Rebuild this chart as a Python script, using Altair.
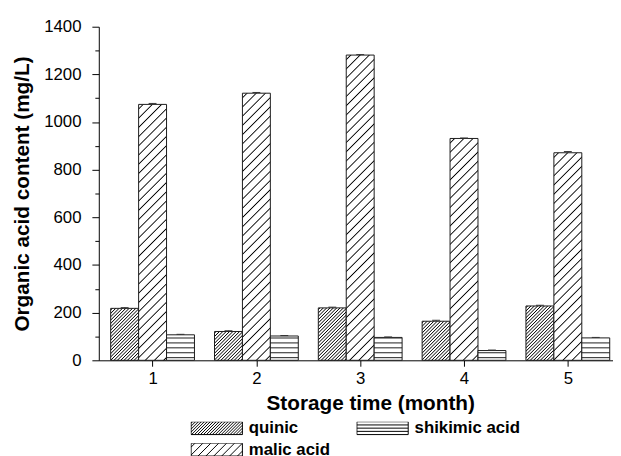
import altair as alt
import numpy as np
import pandas as pd

# ---- data ----
months = [1, 2, 3, 4, 5]
acids = ["quinic", "malic acid", "shikimic acid"]
quinic = [218, 121, 220, 164, 228]
malic = [1074, 1121, 1281, 931, 871]
shikimic = [107, 102, 96, 41, 94]
quinic_err = [3, 3, 3, 4, 3]
malic_err = [4, 3, 2, 2, 5]
shikimic_err = [2, 2, 2, 2, 2]
legend_order = ["quinic", "malic acid", "shikimic acid"]
x_ticks = [1, 1.5, 2, 2.5, 3, 3.5, 4, 4.5, 5]
y_ticks = list(range(0, 1401, 100))

# ---- layout / style ----
W, H = 521, 338
PAD = {"left": 92, "top": 16, "right": 0, "bottom": 94}
XDOM = [0.482, 5.435]
YDOM = [0, 1400]
BW = 0.269  # bar width in month units
px_x = W / (XDOM[1] - XDOM[0])
px_y = H / (YDOM[1] - YDOM[0])
FONT = "Liberation Sans"

values = {"quinic": quinic, "malic acid": malic, "shikimic acid": shikimic}
errs = {"quinic": quinic_err, "malic acid": malic_err, "shikimic acid": shikimic_err}
offsets = {"quinic": -BW, "malic acid": 0.0, "shikimic acid": BW}

rows = []
for a in acids:
    for i, m in enumerate(months):
        v = values[a][i]
        e = errs[a][i]
        xc = m + offsets[a]
        rows.append(dict(idx=len(rows), acid=a, month=m, v=v, top=v + e,
                         xc=xc, x0=xc - BW / 2, x1=xc + BW / 2,
                         cl=xc - 0.038, cr=xc + 0.038))
df = pd.DataFrame(rows)


def tri_stops(centers, half):
    """Stops drawing thin dark lines (triangle profile) at offsets 'centers'."""
    stops = [{"offset": 0, "color": "white"}]
    last = 0.0
    for c in sorted(centers):
        a, b = c - half, c + half
        if b <= 0 or a >= 1:
            continue
        a2 = max(a, last)
        stops.append({"offset": a2, "color": "white"})
        stops.append({"offset": min(max(c, 0), 1), "color": "black"})
        stops.append({"offset": min(b, 1), "color": "white"})
        last = min(b, 1)
    stops.append({"offset": 1, "color": "white"})
    return stops


def diag_fill(w, h, spacing, lw):
    ext = (w + h) / np.sqrt(2)
    s = (w + h) * w * h / (w * w + h * h)
    n = int(ext / spacing) + 2
    centers = [(spacing * 0.5 + k * spacing) / ext for k in range(n)]
    return {"gradient": "linear", "x1": 0, "y1": 0, "x2": s / h, "y2": s / w,
            "stops": tri_stops(centers, lw / ext)}


def horiz_fill(h, spacing, lw, first):
    n = int(h / spacing) + 2
    centers = [1 - (first + k * spacing) / h for k in range(n)]
    centers = [c for c in centers if c > 0.02]
    return {"gradient": "linear", "x1": 0, "y1": 0, "x2": 0, "y2": 1,
            "stops": tri_stops(centers, lw / h)}


def bar_fill(acid, v):
    w = BW * px_x
    h = v * px_y
    if acid == "quinic":
        return diag_fill(w, h, 2.4, 0.75)
    if acid == "malic acid":
        return diag_fill(w, h, 6.6, 0.9)
    return horiz_fill(h, 5.0, 0.9, 2.6)


# legend glyphs (custom symbol paths in the -1..1 box)
def swatch_path(kind):
    hh = 0.25
    p = f"M-1,-{hh}L1,-{hh}L1,{hh}L-1,{hh}Z"
    if kind == "horiz":
        for k in range(1, 4):
            y = -hh + k * (2 * hh) / 4
            p += f"M-1,{y:.4f}L1,{y:.4f}"
        return p
    step = 3.0 / 26 if kind == "dense" else 8.0 / 26
    x0 = -1 - 2 * hh + step * 0.5
    while x0 < 1:
        s0 = max(0.0, -1 - x0)
        s1 = min(2 * hh, 1 - x0)
        if s1 > s0:
            p += f"M{x0 + s0:.4f},{hh - s0:.4f}L{x0 + s1:.4f},{hh - s1:.4f}"
        x0 += step
    return p


legend_paths = {"quinic": swatch_path("dense"),
                "malic acid": swatch_path("sparse"),
                "shikimic acid": swatch_path("horiz")}

# ---- scales / axes ----
xscale = alt.Scale(domain=XDOM, nice=False, zero=False)
yscale = alt.Scale(domain=YDOM, nice=False)
xaxis = alt.Axis(values=x_ticks, format="d",
                 labelExpr="datum.value % 1 === 0 ? datum.label : ''",
                 tickSize={"condition": {"test": "datum.value % 1 === 0", "value": 6}, "value": 3},
                 labelPadding=5, titlePadding=6, labelOverlap=False,
                 titleX=275, titleAlign="center")
yaxis = alt.Axis(values=y_ticks, format="d",
                 labelExpr="datum.value % 200 === 0 ? datum.label : ''",
                 tickSize={"condition": {"test": "datum.value % 200 === 0", "value": 7}, "value": 4},
                 labelPadding=11, titlePadding=11, labelOverlap=False)
XT = "Storage time (month)"
YT = "Organic acid content (mg/L)"


def X(f):
    return alt.X(f"{f}:Q", scale=xscale, axis=xaxis, title=XT)


def Y(f):
    return alt.Y(f"{f}:Q", scale=yscale, axis=yaxis, title=YT)


base = alt.Chart(df)
layers = []
for r in rows:
    layers.append(
        base.transform_filter(alt.datum.idx == r["idx"])
        .mark_bar(fill=bar_fill(r["acid"], r["v"]), stroke="#1a1a1a", strokeWidth=1)
        .encode(x=X("x0"), x2="x1", y=Y("v"), y2=alt.datum(0))
    )

err_rule = base.mark_rule(color="#333", strokeWidth=1).encode(x=X("xc"), y=Y("v"), y2="top")
err_cap = base.mark_rule(color="#333", strokeWidth=1).encode(x=X("cl"), x2="cr", y=Y("top"))

legend_df = pd.DataFrame({"acid": legend_order})
legend_layer = alt.Chart(legend_df).mark_point(opacity=0, color="black").encode(
    shape=alt.Shape("acid:N",
                    scale=alt.Scale(domain=legend_order,
                                    range=[legend_paths[a] for a in legend_order]),
                    legend=alt.Legend(title=None, orient="none", legendX=93, legendY=400,
                                      columns=2, symbolSize=2704, symbolFillColor="white",
                                      symbolStrokeColor="black", symbolStrokeWidth=1,
                                      symbolOpacity=1, labelFont=FONT, labelFontSize=17,
                                      labelFontWeight="bold", labelColor="black",
                                      labelOffset=6, columnPadding=26, rowPadding=4,
                                      clipHeight=13))
)

chart = alt.layer(*layers, err_rule, err_cap, legend_layer).properties(
    width=W, height=H, padding=PAD, autosize="none"
).configure_view(stroke=None).configure_axis(
    grid=False, domainColor="black", tickColor="black", domainWidth=1, tickWidth=1,
    labelFont=FONT, labelFontSize=17, labelColor="black",
    titleFont=FONT, titleFontSize=21, titleFontWeight="bold", titleColor="black",
)

chart.save("out.html", embed_options={"renderer": "svg", "actions": False})
